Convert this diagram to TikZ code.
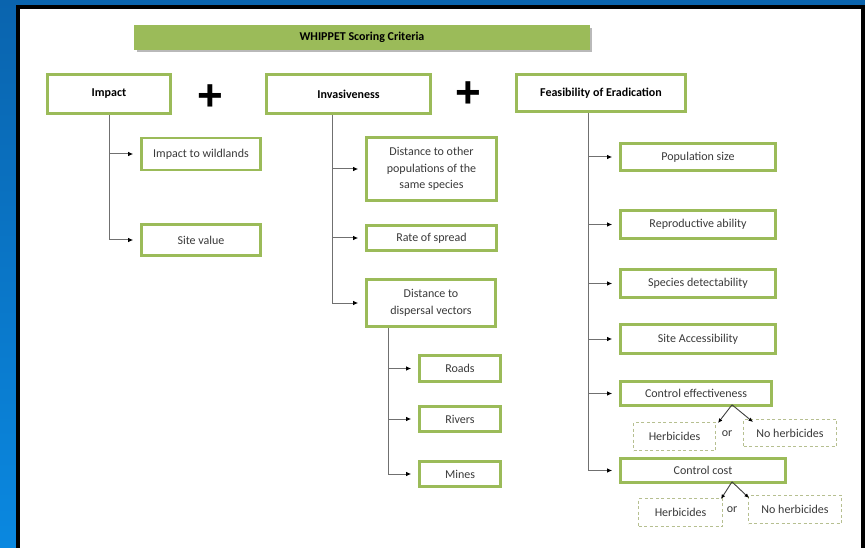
\documentclass[tikz,border=0pt]{standalone}
\usepackage{fontspec}
\setmainfont{Carlito}
\newfontfamily\plusfont{Liberation Sans}
\usetikzlibrary{arrows.meta}
\definecolor{bgtop}{HTML}{0A64AE}
\definecolor{bgbot}{HTML}{0A88E0}
\definecolor{wgreen}{HTML}{9BBB59}
\definecolor{dgreen}{HTML}{B6BF90}
\definecolor{txt}{HTML}{3A3A3A}
\definecolor{lin}{HTML}{707070}
\pgfdeclarelayer{bg}
\pgfdeclarelayer{lines}
\pgfsetlayers{bg,lines,main}
\begin{document}
\begin{tikzpicture}[x=1pt,y=-1pt,
  box/.style={draw=wgreen,line width=2.6pt,fill=white,inner sep=1pt,align=center,text=txt,font=\fontsize{12}{16.5}\selectfont},
  hbox/.style={box,font=\fontsize{12}{14}\selectfont\bfseries,text=black},
  dbox/.style={draw=dgreen,line width=1pt,dash pattern=on 3pt off 2.5pt,fill=white,inner sep=1pt,align=center,text=txt,font=\fontsize{12}{14}\selectfont},
  titlebar/.style={fill=wgreen,draw=none,inner sep=1pt,font=\fontsize{12}{14}\selectfont\bfseries,text=black},
  plussign/.style={inner sep=0pt,font=\plusfont\bfseries\fontsize{44}{44}\selectfont,text=black},
  ortext/.style={inner sep=1pt,text=txt,font=\fontsize{12}{14}\selectfont},
  conn/.style={draw=lin,line width=1pt,-{Latex[length=5pt,width=4.5pt,color=black]},shorten >=7pt},
  conn2/.style={draw=black!75,line width=0.9pt,-{Latex[length=4.5pt,width=4pt,color=black]}},
]
\useasboundingbox (0,0) rectangle (865,548);
\begin{pgfonlayer}{bg}
  \fill[top color=bgtop,bottom color=bgbot] (0,0) rectangle (865,548);
  \fill[black] (16,5) rectangle (865,548);
  \fill[white] (20,9) rectangle (861,548);
  \fill[gray!55] (137,28) rectangle (592,52.5);
\end{pgfonlayer}

% title
\node[titlebar,minimum width=456,minimum height=25] (title) at (362,37.5) {WHIPPET Scoring Criteria};

% headers
\node[hbox,minimum width=123,minimum height=39] (imp) at (109,94) {Impact};
\node[hbox,minimum width=164,minimum height=39] (inv) at (348.5,94) {Invasiveness};
\node[hbox,minimum width=169,minimum height=37] (fea) at (601,93) {Feasibility of Eradication};
\node[plussign] (p1) at (210,98) {+};
\node[plussign] (p2) at (468,95) {+};

% impact children
\node[box,minimum width=119,minimum height=32] (wild) at (201,154) {Impact to wildlands};
\node[box,minimum width=119,minimum height=31] (site) at (201,240) {Site value};

% invasiveness children
\node[box,minimum width=130,minimum height=63] (d1) at (431.5,169) {Distance to other\\populations of the\\same species};
\node[box,minimum width=130,minimum height=25] (rate) at (431.5,238) {Rate of spread};
\node[box,minimum width=129,minimum height=47] (dv) at (431,303) {Distance to\\dispersal vectors};
\node[box,minimum width=81,minimum height=26] (roads) at (460,368.5) {Roads};
\node[box,minimum width=81,minimum height=25] (rivers) at (460,419) {Rivers};
\node[box,minimum width=81,minimum height=25] (mines) at (460,474) {Mines};

% feasibility children
\node[box,minimum width=155,minimum height=27] (pop) at (698,157) {Population size};
\node[box,minimum width=155,minimum height=28] (repro) at (698,224.5) {Reproductive ability};
\node[box,minimum width=155,minimum height=28] (spec) at (698,283.5) {Species detectability};
\node[box,minimum width=155,minimum height=29] (acc) at (698,339) {Site Accessibility};
\node[box,minimum width=151,minimum height=24] (ceff) at (696,393.5) {Control effectiveness};
\node[box,minimum width=165,minimum height=24] (ccost) at (703,470.5) {Control cost};

\node[dbox,minimum width=82,minimum height=28] (h1) at (674.5,436.5) {Herbicides};
\node[ortext] (or1) at (727,434) {or};
\node[dbox,minimum width=93,minimum height=27] (nh1) at (790,433) {No herbicides};
\node[dbox,minimum width=84,minimum height=28] (h2) at (680.5,512.5) {Herbicides};
\node[ortext] (or2) at (732,510) {or};
\node[dbox,minimum width=93,minimum height=28] (nh2) at (795,509.5) {No herbicides};

\begin{pgfonlayer}{lines}
  \draw[conn] (imp.south) |- (wild.west);
  \draw[conn] (imp.south) |- (site.west);
  \draw[conn] ([xshift=-16.5pt]inv.south) |- (d1.west);
  \draw[conn] ([xshift=-16.5pt]inv.south) |- (rate.west);
  \draw[conn] ([xshift=-16.5pt]inv.south) |- (dv.west);
  \draw[conn] ([xshift=-43pt]dv.south) |- (roads.west);
  \draw[conn] ([xshift=-43pt]dv.south) |- (rivers.west);
  \draw[conn] ([xshift=-43pt]dv.south) |- (mines.west);
  \draw[conn] ([xshift=-13pt]fea.south) |- (pop.west);
  \draw[conn] ([xshift=-13pt]fea.south) |- (repro.west);
  \draw[conn] ([xshift=-13pt]fea.south) |- (spec.west);
  \draw[conn] ([xshift=-13pt]fea.south) |- (acc.west);
  \draw[conn] ([xshift=-13pt]fea.south) |- (ceff.west);
  \draw[conn] ([xshift=-13pt]fea.south) |- (ccost.west);
\end{pgfonlayer}
\draw[conn2] ([xshift=36pt,yshift=2pt]ceff.south) -- ([xshift=2pt,yshift=-1pt]h1.north east);
\draw[conn2] ([xshift=36pt,yshift=2pt]ceff.south) -- ([xshift=10pt,yshift=-3pt]nh1.north west);
\draw[conn2] ([xshift=29pt,yshift=2pt]ccost.south) -- ([xshift=-2pt,yshift=-1pt]h2.north east);
\draw[conn2] ([xshift=29pt,yshift=2pt]ccost.south) -- ([xshift=1pt,yshift=-3pt]nh2.north west);
\end{tikzpicture}
\end{document}
